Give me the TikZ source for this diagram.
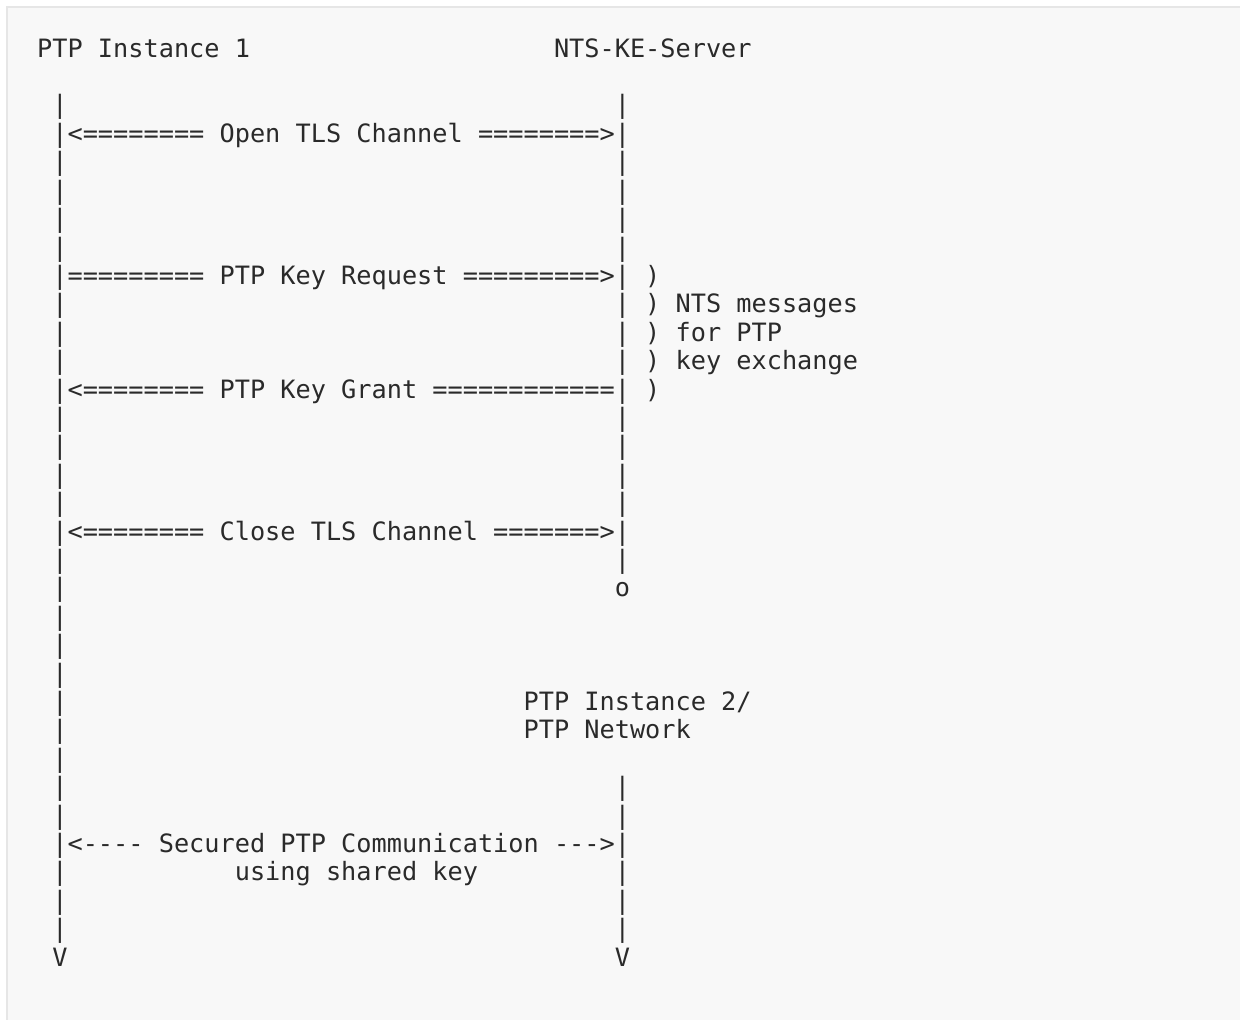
\documentclass[tikz,border=0pt]{standalone}
\usepackage{xcolor}
\usepackage{fontspec}
\setmonofont{DejaVu Sans Mono}
\usepackage{tikz}
\definecolor{ink}{HTML}{2A2A2A}
\definecolor{paper}{HTML}{F8F8F8}
\definecolor{rim}{HTML}{E6E6E6}
\tikzset{
    txt/.style = {anchor=base west, inner sep=0pt, outer sep=0pt, text=ink, font=\ttfamily\fontsize{25.25}{28.4}\selectfont},
}

\begin{document}
\begin{tikzpicture}[x=15.2pt, y=-28.4pt]
\useasboundingbox (-1.447,-2.014) rectangle (80.13,33.866);
\fill[paper] (-0.987,-1.768) rectangle (81,34.5);
\draw[rim, line width=1.5pt] (-0.987,34.5) |- (81,-1.768);
%
\node[txt] at (1,0) (inst1) {PTP Instance 1};
\node[txt] at (35,0) (server) {NTS-KE-Server};
%
\foreach \r in {2,...,31} \node[txt] at (2,\r) (left\r) {|};
\foreach \r in {2,...,18,26,27,...,31} \node[txt] at (39,\r) (right\r) {|};
\node[txt] at (39,19) (srvend) {o};
\node[txt] at (2,32) (leftend) {V};
\node[txt] at (39,32) (rightend) {V};
%
\node[txt] at (3,3) (open) {<======== Open TLS Channel ========>};
\node[txt] at (3,8) (req) {========= PTP Key Request =========>};
\node[txt] at (3,12) (grant) {<======== PTP Key Grant ============};
\node[txt] at (3,17) (close) {<======== Close TLS Channel =======>};
%
\node[txt] at (41,8) (brace1) {)};
\node[txt] at (41,9) (brace2) {) NTS messages};
\node[txt] at (41,10) (brace3) {) for PTP};
\node[txt] at (41,11) (brace4) {) key exchange};
\node[txt] at (41,12) (brace5) {)};
%
\node[txt] at (33,23) (inst2) {PTP Instance 2/};
\node[txt] at (33,24) (network) {PTP Network};
%
\node[txt] at (3,28) (secured) {<---- Secured PTP Communication --->};
\node[txt] at (14,29) (shared) {using shared key};
\end{tikzpicture}
\end{document}
